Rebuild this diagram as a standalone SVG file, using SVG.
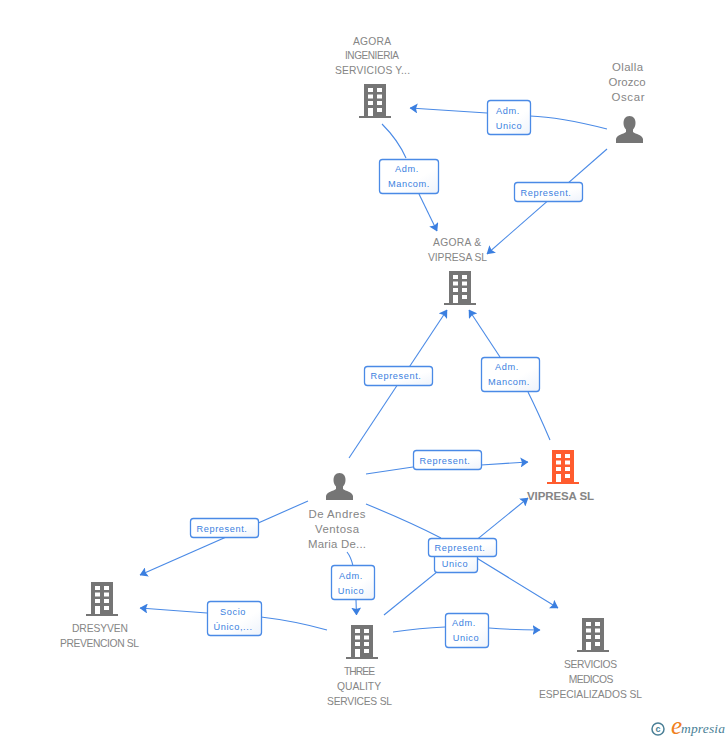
<svg xmlns="http://www.w3.org/2000/svg" width="728" height="740" viewBox="0 0 728 740">
<style>
.n{font:10.3px "Liberation Sans",Arial,sans-serif;fill:#858585;text-anchor:middle}
.m{font-size:11.400px}
.t{font-size:10px}
.b{font-weight:bold;font-size:11.500px}
.l{font:9.200px "Liberation Sans",Arial,sans-serif;fill:#3b7fe0;text-anchor:middle;letter-spacing:.6px}
.c{fill:none;stroke:#4a8ae6;stroke-width:1.100;marker-end:url(#a)}
.s{fill:none;stroke:#4a8ae6;stroke-width:1.100}
.r{fill:url(#g);stroke:#4a8ae6;stroke-width:1.300}
</style>
<defs>
<linearGradient id="g" x1="0" y1="0" x2="1" y2="1"><stop offset="0" stop-color="#fff"/><stop offset=".6" stop-color="#fff"/><stop offset="1" stop-color="#eef3fb"/></linearGradient>
<marker id="a" markerUnits="userSpaceOnUse" markerWidth="8" markerHeight="10" refX="7.500" refY="5" orient="auto" viewBox="0 0 8 10"><path d="M0 0L8 5L0 10L1.500 5Z" fill="#3b7fe0"/></marker>
<g id="bld">
<path fill-rule="evenodd" d="M-11-34H11V-2H16V0H-16V-2H-11ZM-7-30V-26H-2V-30ZM2-30V-26H7V-30ZM-7-23.500V-19.500H-2V-23.500ZM2-23.500V-19.500H7V-23.500ZM-7-17V-13H-2V-17ZM2-17V-13H7V-17ZM-7-10V-2H-2V-10ZM2-10V-6H7V-10Z"/>
</g>
<path id="per" d="M0-27C-4-27-6-24-6-20C-6-17-5-15-3.500-13.500V-11C-6-9-13-8-13.500-4V0H13.500V-4C13-8 6-9 3.500-11V-13.500C5-15 6-17 6-20C6-24 4-27 0-27Z"/>
</defs>
<rect width="728" height="740" fill="#fff"/>
<g id="connectors">
<path class="c" d="M607 129Q560 117 530 116M487 113L410 108"/>
<path class="c" d="M607 149L487 254"/>
<path class="s" d="M382 124Q398 140 406 158"/><path class="c" d="M419 194L437 231"/>
<path class="c" d="M349 458L447 310"/>
<path class="s" d="M550 440Q538 412 528 392"/><path class="c" d="M500 357L469 310"/>
<path class="s" d="M366 474L413 467"/><path class="c" d="M481 465L528 462"/>
<path class="c" d="M308 501L140 575"/>
<path class="s" d="M347 552Q351 557 353 566"/><path class="c" d="M356 600L356.500 615"/>
<path class="s" d="M327 630Q295 621 261 617"/><path class="c" d="M207 613L140 608"/>
<path class="c" d="M384 615L528 498"/>
<path class="c" d="M366 504Q410 522 441 538M475 557L558 608"/>
<path class="s" d="M393 632Q420 628 445 627"/><path class="c" d="M489 628Q515 630 540 630"/>
</g>
<g id="node-agora-ingenieria"><use href="#bld" x="375" y="118" fill="#757575"/><text class="n" x="372" y="45" textLength="38">AGORA</text><text class="n t" x="372" y="59" textLength="54">INGENIERIA</text><text class="n" x="372.500" y="74" textLength="75">SERVICIOS Y...</text></g>
<g id="node-olalla"><use href="#per" x="629.500" y="143" fill="#757575"/><text class="n m" x="627.500" y="71" textLength="31">Olalla</text><text class="n m" x="627" y="86" textLength="37">Orozco</text><text class="n m" x="628" y="101" textLength="33">Oscar</text></g>
<g id="node-agora-vipresa"><use href="#bld" x="460" y="305" fill="#757575"/><text class="n" x="457" y="246" textLength="48">AGORA &amp;</text><text class="n" x="457.500" y="261" textLength="59">VIPRESA SL</text></g>
<g id="node-vipresa"><use href="#bld" x="563" y="484" fill="#ff5c2e"/><text class="n b" x="560.500" y="500" textLength="67">VIPRESA SL</text></g>
<g id="node-de-andres"><use href="#per" x="339.500" y="500" fill="#757575"/><text class="n m" x="337" y="518" textLength="57">De Andres</text><text class="n m" x="337" y="533" textLength="44">Ventosa</text><text class="n m" x="337" y="548" textLength="58">Maria De...</text></g>
<g id="node-dresyven"><use href="#bld" x="102" y="616" fill="#757575"/><text class="n" x="100" y="632" textLength="56">DRESYVEN</text><text class="n" x="99.500" y="647" textLength="79">PREVENCION SL</text></g>
<g id="node-three"><use href="#bld" x="362" y="659" fill="#757575"/><text class="n" x="359.500" y="675" textLength="31">THREE</text><text class="n" x="359" y="690" textLength="44">QUALITY</text><text class="n" x="359.500" y="705" textLength="65">SERVICES SL</text></g>
<g id="node-servicios"><use href="#bld" x="593" y="652" fill="#757575"/><text class="n" x="590.500" y="668" textLength="53">SERVICIOS</text><text class="n" x="591" y="683" textLength="44.500">MEDICOS</text><text class="n" x="590.500" y="698" textLength="103">ESPECIALIZADOS SL</text></g>
<g id="labels">
<rect class="r" x="487.500" y="100.500" width="43" height="34" rx="3"/><text class="l" x="508" y="114">Adm.</text><text class="l" x="509" y="129">Unico</text>
<rect class="r" x="379.500" y="159.500" width="59" height="34" rx="3"/><text class="l" x="407" y="172">Adm.</text><text class="l" x="409" y="187">Mancom.</text>
<rect class="r" x="514.500" y="182.500" width="68" height="19" rx="3"/><text class="l" x="546" y="196">Represent.</text>
<rect class="r" x="364.500" y="366.500" width="68" height="19" rx="3"/><text class="l" x="396" y="379">Represent.</text>
<rect class="r" x="481.500" y="357.500" width="58" height="34" rx="3"/><text class="l" x="507" y="370">Adm.</text><text class="l" x="509" y="385">Mancom.</text>
<rect class="r" x="413.500" y="450.500" width="68" height="19" rx="3"/><text class="l" x="445" y="464">Represent.</text>
<rect class="r" x="190.500" y="518.500" width="68" height="19" rx="3"/><text class="l" x="222" y="532">Represent.</text>
<rect class="r" x="434.500" y="545.500" width="43" height="27" rx="3"/><text class="l" x="455" y="567">Unico</text>
<rect class="r" x="428.500" y="538.500" width="68" height="18" rx="3"/><text class="l" x="460" y="551">Represent.</text>
<rect class="r" x="331.500" y="565.500" width="43" height="34" rx="3"/><text class="l" x="351" y="579">Adm.</text><text class="l" x="351" y="594">Unico</text>
<rect class="r" x="445.500" y="613.500" width="43" height="34" rx="3"/><text class="l" x="464" y="626">Adm.</text><text class="l" x="466" y="641">Unico</text>
<rect class="r" x="207.500" y="601.500" width="54" height="34" rx="3"/><text class="l" x="233" y="615">Socio</text><text class="l" x="233" y="630">Único,...</text>
</g>
<g id="logo"><circle cx="658" cy="729" r="6" fill="none" stroke="#4a7f96" stroke-width="1.500"/><text x="658" y="732" font-family="Liberation Sans,sans-serif" font-size="9" font-weight="bold" fill="#4a7f96" text-anchor="middle">c</text><text x="671" y="734" font-family="Liberation Serif,serif" font-size="25" font-style="italic" fill="#f08020">e</text><text x="681" y="733" font-family="Liberation Serif,serif" font-size="13.500" font-style="italic" fill="#4a7f96" textLength="44">mpresia</text></g>
</svg>
